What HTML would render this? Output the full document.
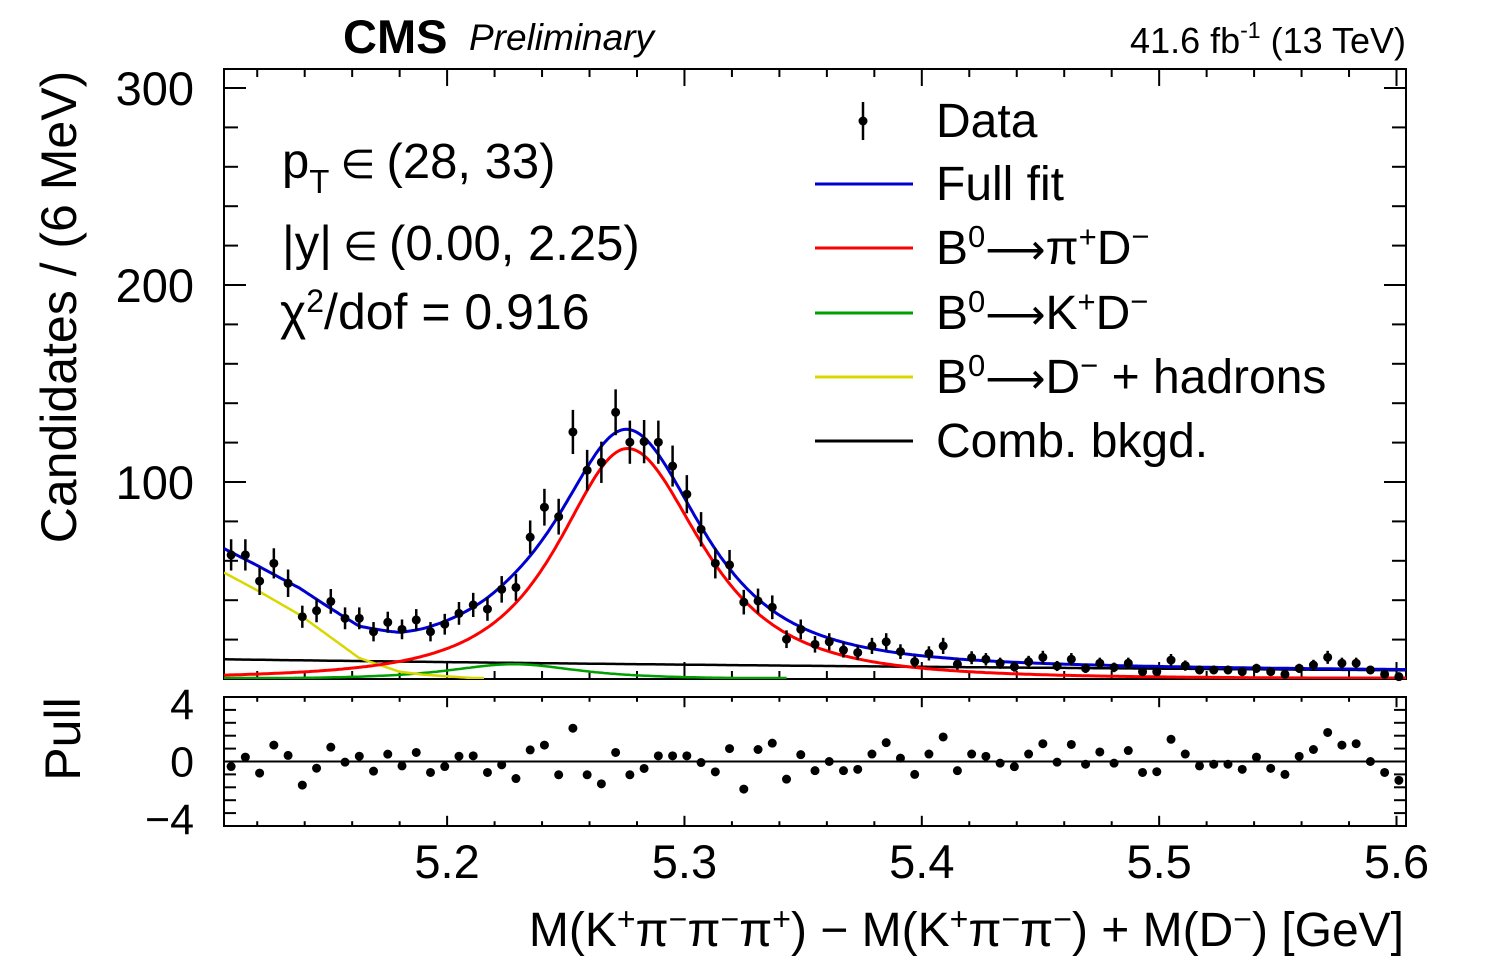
<!DOCTYPE html>
<html><head><meta charset="utf-8"><style>
html,body{margin:0;padding:0;background:#fff;}
svg{display:block;font-family:"Liberation Sans",Arial,sans-serif;}
.arr{font-family:"DejaVu Sans",sans-serif;}
</style></head><body>
<svg id="chart" width="1496" height="972" viewBox="0 0 1496 972" xmlns="http://www.w3.org/2000/svg">
<g id="main"></g>
</svg>
<script>
// ---- data ----
const binCenters0 = 5.109, binWidth = 0.006;
const dataCounts = [63,63,49.7,58.7,48.6,31.6,34.7,39.4,30.8,30.8,
24,28.8,25.2,30,24,27.8,33.3,37.6,35.5,45.5,
46.5,72,87.2,82.4,125.4,106,110,135.4,120.2,120.5,
120.2,108.1,93.8,76,58.7,57.9,39,39.6,36.4,20.2,
25.2,17.6,18.9,14.7,13.4,16.8,18.9,13.9,8.8,13,
16.8,7.5,10.8,10,8,6.2,8.8,11,6.6,10,
5.4,8,5.9,8,3.7,3.7,9.6,6.8,4.6,4.6,
4.6,3.7,5.4,3.7,2.4,5.4,7.1,11,8,8,
4.6,2.4,1.2];
const pulls = [-0.39,0.34,-0.9,1.27,0.47,-1.83,-0.52,1.11,-0.05,0.41,
-0.75,0.57,-0.34,0.70,-0.85,-0.39,0.41,0.44,-0.85,-0.26,
-1.32,0.90,1.27,-1.03,2.58,-1.03,-1.73,0.70,-1.03,-0.54,
0.44,0.44,0.44,-0.08,-0.80,1.0,-2.14,0.93,1.42,-1.37,
0.53,-0.71,0,-0.71,-0.61,0.58,1.46,0.26,-1.0,0.58,
1.9,-0.71,0.58,0.4,-0.13,-0.4,0.58,1.38,-0.05,1.32,
-0.21,0.74,-0.13,0.85,-0.85,-0.79,1.72,0.58,-0.34,-0.21,
-0.21,-0.61,0.34,-0.53,-1.0,0.4,0.93,2.25,1.27,1.38,
0,-0.85,-1.46];
const signalParams = [117, 5.276, 0.045, 0.048, 1.5];
const kdParams = [7.5, 5.228, 0.042, 0.042, 1.5];
const combParams = [10, 1.63];
const hadronX = [5.106,5.12,5.138,5.15,5.163,5.18,5.19,5.202,5.217,5.3];
const hadronY = [54,45,32.5,22,10.6,3.7,2.2,1.2,0,0];
const xTicks = [5.2,5.3,5.4,5.5,5.6];
const yTicks = [100,200,300];
const pullTicks = [4,0,-4];

const XMIN=5.106, XMAX=5.604, L=224, R=1406;
const X = v => L + (v-XMIN)*(R-L)/(XMAX-XMIN);
const MT=69, MB=679;
const Y = v => MB - v*1.97;
const PT=697, PB=826;
const P = v => 761.5 - v*12.9;

const NS="http://www.w3.org/2000/svg";
const root=document.getElementById('main');
function el(tag, attrs, parent){const e=document.createElementNS(NS,tag);for(const k in attrs)e.setAttribute(k,attrs[k]);(parent||root).appendChild(e);return e;}

function tshape(p,x){const d=x-p[1];const g=d<0?p[2]:p[3];return p[0]/Math.pow(1+(d/g)*(d/g),p[4]);}
function comb(x){return combParams[0]*Math.exp(-combParams[1]*(x-XMIN));}
function hadron(x){if(x<=hadronX[0])return hadronY[0];for(let i=1;i<hadronX.length;i++){if(x<=hadronX[i]){const t=(x-hadronX[i-1])/(hadronX[i]-hadronX[i-1]);return hadronY[i-1]+t*(hadronY[i]-hadronY[i-1]);}}return 0;}

const defs=el('defs',{});const cp=el('clipPath',{id:'mclip'},defs);el('rect',{x:L,y:MT,width:R-L,height:MB-MT},cp);

const f1=el('rect',{x:L,y:MT,width:R-L,height:MB-MT,fill:'none',stroke:'#000','stroke-width':2});


const f2=el('rect',{x:L,y:PT,width:R-L,height:PB-PT,fill:'none',stroke:'#000','stroke-width':2});



for(let v=5.12;v<=5.6041;v+=0.02){const major=Math.abs(v*10-Math.round(v*10))<1e-6;const x=X(v);const len=major?17:8;
 el('line',{x1:x,x2:x,y1:MB,y2:MB-len,stroke:'#000','stroke-width':2});
 el('line',{x1:x,x2:x,y1:MT,y2:MT+len,stroke:'#000','stroke-width':2});
 el('line',{x1:x,x2:x,y1:PB,y2:PB-len*0.6,stroke:'#000','stroke-width':2});
 el('line',{x1:x,x2:x,y1:PT,y2:PT+len*0.6,stroke:'#000','stroke-width':2});}
for(let v=20;v<=300;v+=20){const y=Y(v);const major=v%100===0;const len=major?22:14;
 el('line',{x1:L,x2:L+len,y1:y,y2:y,stroke:'#000','stroke-width':2});
 el('line',{x1:R,x2:R-len,y1:y,y2:y,stroke:'#000','stroke-width':2});}
for(let v=-4;v<=4;v++){const y=P(v);el('line',{x1:L,x2:L+12,y1:y,y2:y,stroke:'#000','stroke-width':2});el('line',{x1:R,x2:R-12,y1:y,y2:y,stroke:'#000','stroke-width':2});}

xTicks.forEach(v=>{const t=el('text',{x:X(v),y:878,'font-size':47,'text-anchor':'middle'});t.textContent=v.toFixed(1);
 
 });
yTicks.forEach(v=>{const t=el('text',{x:194,y:Y(v)+17,'font-size':47,'text-anchor':'end'});t.textContent=v;
 
 });
pullTicks.forEach(v=>{const t=el('text',{x:194,y:P(v)+15+(v===4?-6:0)+(v===-4?6:0),'font-size':43,'text-anchor':'end'});t.textContent=v<0?'\u2212'+(-v):String(v);
 
 });

const cg=el('g',{'clip-path':'url(#mclip)'});
function stopX(c){return c==='#00a000'?5.25:(c==='#d8d800'?5.15:5.3);}
function curveIn(fn,color,name,w,stopAt){let d="";const n=500;for(let i=0;i<=n;i++){const x=XMIN+(XMAX-XMIN)*i/n;const v=fn(x);if(stopAt!==undefined&&v<stopAt&&x>stopX(color))break;const y=Math.min(Y(v),MB-1);d+=(i?"L":"M")+X(x).toFixed(1)+","+y.toFixed(1);}
 const p=el('path',{d:d,fill:'none',stroke:color,'stroke-width':w},cg);
 
 }
curveIn(x=>comb(x),'#000','comb-bkgd-curve',2.5);
curveIn(x=>tshape(kdParams,x),'#00a000','b0-kd-curve',2.5,0.3);
curveIn(x=>hadron(x),'#d8d800','b0-d-hadrons-curve',2.5,0.05);
curveIn(x=>tshape(signalParams,x),'#ff0000','b0-pid-curve',3,0.3);

dataCounts.forEach((v,i)=>{const x=X(binCenters0+i*binWidth);const e=Math.sqrt(v)*1.97;
 const g=el('g',{});
 
 
 el('line',{x1:x,x2:x,y1:Y(v)-e,y2:Math.min(Y(v)+e,MB),stroke:'#000','stroke-width':2.5},g);
 el('circle',{cx:x,cy:Y(v),r:4.5,fill:'#000'},g);});
curveIn(x=>tshape(signalParams,x)+tshape(kdParams,x)+hadron(x)+comb(x),'#0000d0','full-fit-curve',3);

const zl=el('line',{x1:L,x2:R,y1:P(0),y2:P(0),stroke:'#000','stroke-width':2});


pulls.forEach((v,i)=>{const c=el('circle',{cx:X(binCenters0+i*binWidth),cy:P(v),r:4.5,fill:'#000'});
 
 });
</script>
<svg style="position:absolute;left:0;top:0" width="1496" height="972" xmlns="http://www.w3.org/2000/svg">
<g font-family="Liberation Sans, Arial, sans-serif" fill="#000">
<text x="343" y="53" font-size="47" font-weight="bold">CMS</text>
<text x="469" y="50" font-size="37" font-style="italic">Preliminary</text>
<text x="1406" y="53" font-size="36" text-anchor="end">41.6 fb<tspan dy="-15" font-size="23">-1</tspan><tspan dy="15"> (13 TeV)</tspan></text>
<text transform="translate(76,307) rotate(-90)" font-size="50" text-anchor="middle">Candidates / (6 MeV)</text>
<text transform="translate(80,739) rotate(-90)" font-size="50" text-anchor="middle">Pull</text>
<text x="1404" y="946" font-size="48" text-anchor="end">M(K<tspan dy="-16" font-size="32">+</tspan><tspan dy="16">π</tspan><tspan dy="-16" font-size="32">−</tspan><tspan dy="16">π</tspan><tspan dy="-16" font-size="32">−</tspan><tspan dy="16">π</tspan><tspan dy="-16" font-size="32">+</tspan><tspan dy="16">) − M(K</tspan><tspan dy="-16" font-size="32">+</tspan><tspan dy="16">π</tspan><tspan dy="-16" font-size="32">−</tspan><tspan dy="16">π</tspan><tspan dy="-16" font-size="32">−</tspan><tspan dy="16">) + M(D</tspan><tspan dy="-16" font-size="32">−</tspan><tspan dy="16">) [GeV]</tspan></text>
<text x="282" y="178" font-size="49">p<tspan dy="15" font-size="33">T</tspan><tspan dy="-15" font-size="40"> ∈ </tspan><tspan>(28, 33)</tspan></text>
<text x="282" y="260" font-size="49">|y|<tspan font-size="40"> ∈ </tspan>(0.00, 2.25)</text>
<text x="280" y="329" font-size="50">χ<tspan dy="-17" font-size="32">2</tspan><tspan dy="17">/dof = 0.916</tspan></text>
<g>
<line x1="863" x2="863" y1="102" y2="140" stroke="#000" stroke-width="2.5"/><circle cx="863" cy="121" r="4.5"/>
<text x="936" y="137" font-size="48">Data</text>
<line x1="815" x2="913" y1="184" y2="184" stroke="#0000d0" stroke-width="3"/>
<text x="936" y="200" font-size="48">Full fit</text>
<line x1="815" x2="913" y1="248" y2="248" stroke="#ff0000" stroke-width="3"/>
<text x="936" y="264" font-size="48">B<tspan dy="-17" font-size="31">0</tspan><tspan dy="17" class="arr" font-size="42">⟶</tspan><tspan>π</tspan><tspan dy="-17" font-size="31">+</tspan><tspan dy="17">D</tspan><tspan dy="-17" font-size="31">−</tspan></text>
<line x1="815" x2="913" y1="313" y2="313" stroke="#00a000" stroke-width="3"/>
<text x="936" y="329" font-size="48">B<tspan dy="-17" font-size="31">0</tspan><tspan dy="17" class="arr" font-size="42">⟶</tspan><tspan>K</tspan><tspan dy="-17" font-size="31">+</tspan><tspan dy="17">D</tspan><tspan dy="-17" font-size="31">−</tspan></text>
<line x1="815" x2="913" y1="377" y2="377" stroke="#d8d800" stroke-width="3"/>
<text x="936" y="393" font-size="48">B<tspan dy="-17" font-size="31">0</tspan><tspan dy="17" class="arr" font-size="42">⟶</tspan><tspan>D</tspan><tspan dy="-17" font-size="31">−</tspan><tspan dy="17">  + hadrons</tspan></text>
<line x1="815" x2="913" y1="441" y2="441" stroke="#000" stroke-width="3"/>
<text x="936" y="457" font-size="48">Comb. bkgd.</text>
</g>
</g>
</svg>
</body></html>
